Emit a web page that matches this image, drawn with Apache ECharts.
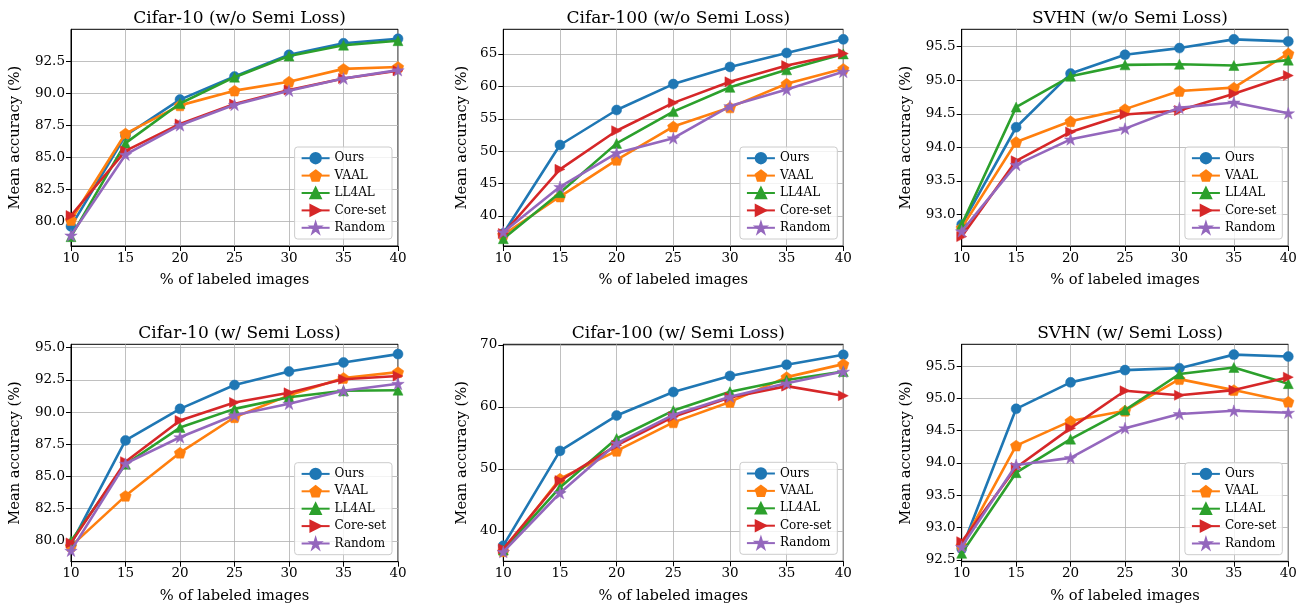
<!DOCTYPE html>
<html>
<head>
<meta charset="utf-8">
<script src="https://cdn.jsdelivr.net/npm/echarts@6/dist/echarts.min.js"></script>
<style>
html,body{margin:0;padding:0;background:#fff;}
#chart{width:1305px;height:607px;}
</style>
</head>
<body>
<div id="chart"></div>
<script>
// ---------------- data ----------------
const xValues = [10, 15, 20, 25, 30, 35, 40];
const xTicks = [10, 15, 20, 25, 30, 35, 40];
const methods = ['Ours', 'VAAL', 'LL4AL', 'Core-set', 'Random'];
const titles = ['Cifar-10 (w/o Semi Loss)', 'Cifar-100 (w/o Semi Loss)', 'SVHN (w/o Semi Loss)',
                'Cifar-10 (w/ Semi Loss)', 'Cifar-100 (w/ Semi Loss)', 'SVHN (w/ Semi Loss)'];
const xLabel = '% of labeled images';
const yLabel = 'Mean accuracy (%)';

// Cifar-10 w/o semi loss
const c10woOurs  = [79.6, 86.7, 89.5, 91.3, 93.0, 93.9, 94.25];
const c10woVAAL  = [80.1, 86.85, 89.05, 90.2, 90.9, 91.9, 92.05];
const c10woLL4AL = [78.8, 86.1, 89.2, 91.25, 92.9, 93.75, 94.1];
const c10woCore  = [80.45, 85.5, 87.6, 89.15, 90.25, 91.15, 91.75];
const c10woRand  = [78.9, 85.2, 87.5, 89.1, 90.2, 91.15, 91.8];
// Cifar-100 w/o semi loss
const c100woOurs  = [37.3, 50.95, 56.35, 60.35, 63.0, 65.15, 67.25];
const c100woVAAL  = [37.1, 43.0, 48.65, 53.8, 56.75, 60.4, 62.7];
const c100woLL4AL = [36.5, 43.6, 51.2, 56.1, 59.85, 62.55, 65.0];
const c100woCore  = [37.3, 47.2, 53.15, 57.45, 60.7, 63.2, 65.05];
const c100woRand  = [37.5, 44.5, 49.7, 52.0, 56.95, 59.5, 62.25];
// SVHN w/o semi loss
const svhnwoOurs  = [92.85, 94.3, 95.1, 95.38, 95.48, 95.61, 95.58];
const svhnwoVAAL  = [92.8, 94.08, 94.39, 94.57, 94.84, 94.89, 95.4];
const svhnwoLL4AL = [92.85, 94.6, 95.06, 95.23, 95.24, 95.22, 95.3];
const svhnwoCore  = [92.67, 93.8, 94.23, 94.49, 94.55, 94.8, 95.07];
const svhnwoRand  = [92.75, 93.74, 94.12, 94.28, 94.59, 94.67, 94.51];
// Cifar-10 w/ semi loss
const c10wOurs  = [79.75, 87.8, 90.25, 92.1, 93.15, 93.85, 94.5];
const c10wVAAL  = [79.6, 83.5, 86.85, 89.6, 91.3, 92.65, 93.1];
const c10wLL4AL = [80.0, 85.95, 88.8, 90.25, 91.15, 91.65, 91.7];
const c10wCore  = [79.85, 86.15, 89.35, 90.75, 91.5, 92.55, 92.8];
const c10wRand  = [79.25, 86.0, 88.05, 89.75, 90.65, 91.65, 92.2];
// Cifar-100 w/ semi loss
const c100wOurs  = [37.6, 52.9, 58.6, 62.4, 65.0, 66.8, 68.4];
const c100wVAAL  = [36.7, 48.4, 52.9, 57.5, 60.8, 64.8, 66.9];
const c100wLL4AL = [36.9, 47.0, 54.9, 59.4, 62.45, 64.35, 65.7];
const c100wCore  = [37.1, 48.1, 53.8, 58.4, 61.5, 63.35, 61.8];
const c100wRand  = [36.6, 46.1, 54.1, 58.7, 61.65, 63.8, 65.7];
// SVHN w/ semi loss
const svhnwOurs  = [92.67, 94.84, 95.25, 95.44, 95.47, 95.68, 95.65];
const svhnwVAAL  = [92.72, 94.27, 94.65, 94.81, 95.3, 95.13, 94.95];
const svhnwLL4AL = [92.6, 93.85, 94.37, 94.82, 95.38, 95.48, 95.23];
const svhnwCore  = [92.78, 93.93, 94.54, 95.12, 95.05, 95.13, 95.33];
const svhnwRand  = [92.7, 93.97, 94.08, 94.54, 94.76, 94.81, 94.78];

// y tick labels
const yTicksC10wo  = [80.0, 82.5, 85.0, 87.5, 90.0, 92.5];
const yTicksC100wo = [40, 45, 50, 55, 60, 65];
const yTicksSVHNwo = [93.0, 93.5, 94.0, 94.5, 95.0, 95.5];
const yTicksC10w   = [80.0, 82.5, 85.0, 87.5, 90.0, 92.5, 95.0];
const yTicksC100w  = [40, 50, 60, 70];
const yTicksSVHNw  = [92.5, 93.0, 93.5, 94.0, 94.5, 95.0, 95.5];

// ---------------- layout / style ----------------
const panelSeries = [
  [c10woOurs, c10woVAAL, c10woLL4AL, c10woCore, c10woRand],
  [c100woOurs, c100woVAAL, c100woLL4AL, c100woCore, c100woRand],
  [svhnwoOurs, svhnwoVAAL, svhnwoLL4AL, svhnwoCore, svhnwoRand],
  [c10wOurs, c10wVAAL, c10wLL4AL, c10wCore, c10wRand],
  [c100wOurs, c100wVAAL, c100wLL4AL, c100wCore, c100wRand],
  [svhnwOurs, svhnwVAAL, svhnwLL4AL, svhnwCore, svhnwRand]
];
const panelTicks = [yTicksC10wo, yTicksC100wo, yTicksSVHNwo, yTicksC10w, yTicksC100w, yTicksSVHNw];
const panelDecimals = [1, 0, 1, 1, 0, 1];
const panelRange = [[78.07, 94.99], [35.37, 68.8], [92.53, 95.76], [78.39, 95.26], [35.08, 70.1], [92.47, 95.84]];
const panelGrid = [
  {left: 71, top: 29.3, width: 327, height: 216.7},
  {left: 503.3, top: 29.3, width: 340, height: 216.7},
  {left: 961.7, top: 29.3, width: 326.6, height: 216.7},
  {left: 71, top: 344.3, width: 327, height: 217.4},
  {left: 503.3, top: 344.3, width: 340, height: 217},
  {left: 961.7, top: 344.3, width: 326.6, height: 217.4}
];
const nameGapY = [48, 34, 48, 48, 34, 48];

const FONT = 'DejaVu Serif';
const colors = ['#1f77b4', '#ff7f0e', '#2ca02c', '#d62728', '#9467bd'];
const pentagon = 'path://M0,-1L0.951,-0.309L0.588,0.809L-0.588,0.809L-0.951,-0.309Z';
const star = 'path://M0,-1L0.2245,-0.309L0.951,-0.309L0.363,0.118L0.588,0.809L0,0.382L-0.588,0.809L-0.363,0.118L-0.951,-0.309L-0.2245,-0.309Z';
const symbols = ['circle', pentagon, 'triangle', 'triangle', star];
const symbolSizes = [10, [11.4, 10.9], 10, 10, [12.4, 11.8]];
const symbolRotates = [0, 0, 0, -90, 0];

const W = 1305, H = 607;
const option = {
  backgroundColor: '#fff',
  animation: false,
  title: [], grid: [], xAxis: [], yAxis: [], legend: [], series: []
};

panelGrid.forEach((g, i) => {
  option.grid.push(Object.assign({show: true, borderColor: '#000', borderWidth: 1, backgroundColor: 'transparent', containLabel: false}, g));
  option.title.push({
    text: titles[i], left: g.left + g.width / 2, top: i < 3 ? 5 : 320, textAlign: 'center',
    textStyle: {fontFamily: FONT, fontSize: 17, fontWeight: 'normal', color: '#000'}
  });
  option.xAxis.push({
    gridIndex: i, type: 'value', min: 10, max: 40, interval: 5,
    name: xLabel, nameLocation: 'middle', nameGap: 27,
    nameTextStyle: {fontFamily: FONT, fontSize: 14.7, color: '#000'},
    axisLine: {show: true, onZero: false, lineStyle: {color: '#000', width: 1}},
    axisTick: {show: true, length: 5, inside: false, lineStyle: {color: '#000', width: 1}},
    axisLabel: {fontFamily: FONT, fontSize: 13.5, color: '#000', margin: 5},
    splitLine: {show: true, lineStyle: {color: '#b0b0b0', width: 0.8}}
  });
  const dec = panelDecimals[i];
  option.yAxis.push({
    gridIndex: i, type: 'value', min: panelRange[i][0], max: panelRange[i][1],
    name: yLabel, nameLocation: 'middle', nameGap: nameGapY[i],
    nameTextStyle: {fontFamily: FONT, fontSize: 14.7, color: '#000'},
    axisLine: {show: true, onZero: false, lineStyle: {color: '#000', width: 1}},
    axisTick: {show: true, length: 5, inside: false, customValues: panelTicks[i], lineStyle: {color: '#000', width: 1}},
    axisLabel: {fontFamily: FONT, fontSize: 13.5, color: '#000', margin: 6, customValues: panelTicks[i],
                formatter: v => Number(v).toFixed(dec)},
    splitLine: {show: true, lineStyle: {color: '#b0b0b0', width: 0.8}}
  });
  option.legend.push({
    orient: 'vertical',
    right: W - (g.left + g.width - 6),
    bottom: H - (g.top + g.height - 7),
    data: methods,
    itemWidth: 28, itemHeight: 13, itemGap: 5,
    padding: [5, 6, 5, 6],
    backgroundColor: 'rgba(255,255,255,0.8)',
    borderColor: '#cccccc', borderWidth: 1, borderRadius: 3,
    textStyle: {fontFamily: FONT, fontSize: 12, color: '#000'},
    selectedMode: false
  });
  panelSeries[i].forEach((vals, k) => {
    option.series.push({
      name: methods[k], type: 'line', xAxisIndex: i, yAxisIndex: i,
      data: xValues.map((x, j) => [x, vals[j]]),
      symbol: symbols[k], symbolSize: symbolSizes[k], symbolRotate: symbolRotates[k],
      showAllSymbol: true,
      color: colors[k],
      lineStyle: {color: colors[k], width: 2.6},
      itemStyle: {color: colors[k], borderColor: colors[k], borderWidth: 0.5},
      emphasis: {disabled: true},
      z: 2 + k
    });
  });
});

const chart = echarts.init(document.getElementById('chart'), null, {renderer: 'canvas', width: W, height: H});
chart.setOption(option);
</script>
</body>
</html>
